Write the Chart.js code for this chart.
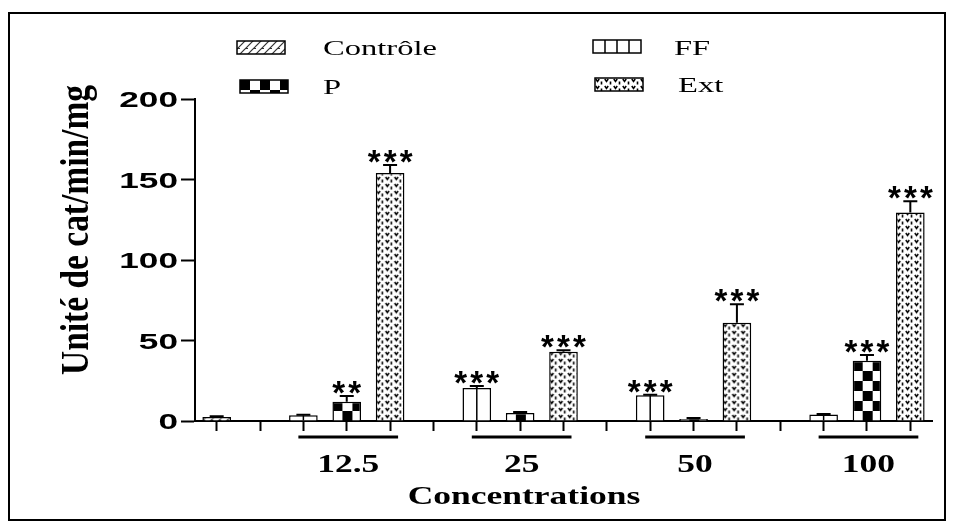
<!DOCTYPE html>
<html lang="fr">
<head>
<meta charset="UTF-8">
<title>Unité de cat/min/mg</title>
<script src="https://cdn.jsdelivr.net/npm/chart.js"></script>
<style>
  html, body { margin: 0; padding: 0; background: #fff; }
  #wrap { width: 954px; height: 529px; }
</style>
</head>
<body>
<div id="wrap"><canvas id="chart" width="954" height="529"></canvas></div>
<script>
// values
const concentrations = ['12.5', '25', '50', '100'];
const controlValue = 2.5;
const controlError = 0.4;
const ffValues = [3.5, 20.5, 16, 4];
const ffErrors = [0.4, 1.2, 0.3, 0.3];
const pValues = [12, 5, 1.2, 37.5];
const pErrors = [3.6, 0.6, 0.6, 3.5];
const extValues = [154, 43, 61, 129.5];
const extErrors = [5, 1, 11.5, 7];
const ffStars = ['', '***', '***', ''];
const pStars = ['**', '', '', '***'];
const extStars = ['***', '***', '***', '***'];
const yTicks = [0, 50, 100, 150, 200];

// slot 0 = control, slot 1 = gap, then FF/P/Ext + gap per concentration
const slotCount = 2 + concentrations.length * 4 - 1;
const slotOf = (g, k) => 2 + g * 4 + k;
const BAR_PCT = 0.66;
const SX = 1.42; // the figure's text is stretched horizontally

function slots(vals, k) {
  const out = new Array(slotCount).fill(null);
  vals.forEach((v, g) => { out[slotOf(g, k)] = v; });
  return out;
}
function single(v) {
  const out = new Array(slotCount).fill(null);
  out[0] = v;
  return out;
}

function tile(w, h, draw) {
  const c = document.createElement('canvas');
  c.width = w; c.height = h;
  const g = c.getContext('2d');
  g.fillStyle = '#fff';
  g.fillRect(0, 0, w, h);
  g.strokeStyle = '#000';
  g.fillStyle = '#000';
  draw(g);
  return c;
}

const tiles = {
  control: tile(8, 8, g => {
    g.lineWidth = 1.2;
    g.strokeStyle = '#333';
    g.beginPath();
    g.moveTo(0, 8); g.lineTo(8, 0);
    g.moveTo(-4, 4); g.lineTo(4, -4);
    g.moveTo(4, 12); g.lineTo(12, 4);
    g.moveTo(0, 7.5); g.lineTo(3, 7.5);
    g.stroke();
  }),
  checker: tile(20, 20, g => {
    g.fillRect(0, 0, 10, 10);
    g.fillRect(10, 10, 10, 10);
  }),
  ext: tile(9, 7, g => {
    g.lineWidth = 1.6;
    g.beginPath();
    g.moveTo(0.8, 1); g.lineTo(2.5, 3.4); g.lineTo(4.2, 1);
    g.moveTo(6.5, 3.5); g.lineTo(6.5, 6.5);
    g.stroke();
  })
};

const canvas = document.getElementById('chart');
const ctx = canvas.getContext('2d');

function patternAt(name, x, y) {
  const p = ctx.createPattern(tiles[name], 'repeat');
  p.setTransform(new DOMMatrix().translate(x, y));
  return p;
}

function barFill(name) {
  return c => {
    const chart = c.chart;
    const xs = chart.scales.x, ys = chart.scales.y;
    if (!xs || !ys || c.dataIndex === undefined) return patternAt(name, 0, 0);
    const w = xs.width / slotCount * BAR_PCT;
    return patternAt(name, xs.getPixelForValue(c.dataIndex) - w / 2, ys.getPixelForValue(0));
  };
}

function stretchText(text, x, y, font, align, sx) {
  ctx.save();
  ctx.font = font;
  ctx.textAlign = align;
  ctx.textBaseline = 'alphabetic';
  ctx.fillStyle = '#000';
  ctx.translate(x, y);
  ctx.scale(sx, 1);
  ctx.fillText(text, 0, 0);
  ctx.restore();
}

const decorations = {
  id: 'decorations',
  afterDatasetsDraw(chart) {
    const xs = chart.scales.x, ys = chart.scales.y;
    const area = chart.chartArea;
    ctx.save();
    ctx.strokeStyle = '#000';

    chart.data.datasets.forEach((ds, di) => {
      const meta = chart.getDatasetMeta(di);
      meta.data.forEach((el, i) => {
        const v = ds.data[i];
        if (v === null) return;
        // FF bars show a single divider down the middle
        if (ds.divider) {
          ctx.lineWidth = 1.5;
          ctx.beginPath();
          ctx.moveTo(el.x, el.y);
          ctx.lineTo(el.x, el.base);
          ctx.stroke();
        }
        // upper error bar
        const top = ys.getPixelForValue(v + ds.errors[i]);
        ctx.lineWidth = 2;
        ctx.beginPath();
        ctx.moveTo(el.x, el.y);
        ctx.lineTo(el.x, top);
        ctx.moveTo(el.x - 7, top);
        ctx.lineTo(el.x + 7, top);
        ctx.stroke();
        // significance stars
        const s = ds.stars[i];
        if (s) {
          ctx.font = 'bold 33px "Liberation Sans"';
          ctx.textAlign = 'center';
          ctx.textBaseline = 'alphabetic';
          ctx.fillStyle = '#000';
          const n = s.length;
          for (let k = 0; k < n; k++) {
            ctx.fillText('*', el.x + (k - (n - 1) / 2) * 16, top + 8);
          }
        }
      });
    });

    // group underlines and concentration labels
    concentrations.forEach((lab, g) => {
      const x1 = xs.getPixelForValue(slotOf(g, 0)) - 5;
      const x2 = xs.getPixelForValue(slotOf(g, 2)) + 8;
      ctx.lineWidth = 3;
      ctx.beginPath();
      ctx.moveTo(x1, area.bottom + 16);
      ctx.lineTo(x2, area.bottom + 16);
      ctx.stroke();
      stretchText(lab, (x1 + x2) / 2, area.bottom + 51, 'bold 25px "Liberation Serif"', 'center', SX);
    });
    stretchText('Concentrations', 524, 504, 'bold 25px "Liberation Serif"', 'center', SX);

    // y tick labels
    yTicks.forEach(v => {
      const y = ys.getPixelForValue(v);
      stretchText(String(v), 178, y + 8, 'bold 22px "Liberation Sans"', 'right', 1.6);
    });

    // y title
    ctx.save();
    ctx.font = 'bold 27px "Liberation Serif"';
    const title = 'Unité de cat/min/mg';
    const w = ctx.measureText(title).width;
    ctx.translate(88, 230);
    ctx.rotate(-Math.PI / 2);
    ctx.scale(290 / w, 1.5);
    ctx.textAlign = 'center';
    ctx.textBaseline = 'alphabetic';
    ctx.fillStyle = '#000';
    ctx.fillText(title, 0, 0);
    ctx.restore();

    // legend
    const items = [
      { ds: 0, px: 237, py: 41, tx: 323, ty: 55 },
      { ds: 1, px: 593, py: 40, tx: 674, ty: 55 },
      { ds: 2, px: 240, py: 80, tx: 323, ty: 94 },
      { ds: 3, px: 595, py: 78, tx: 678, ty: 92 }
    ];
    items.forEach(it => {
      const ds = chart.data.datasets[it.ds];
      ctx.fillStyle = ds.patternName ? patternAt(ds.patternName, it.px, it.py) : '#fff';
      ctx.fillRect(it.px, it.py, 48, 13);
      if (ds.divider) {
        ctx.lineWidth = 1.5;
        ctx.beginPath();
        for (let k = 1; k < 4; k++) {
          ctx.moveTo(it.px + k * 12, it.py);
          ctx.lineTo(it.px + k * 12, it.py + 13);
        }
        ctx.stroke();
      }
      ctx.lineWidth = 1.5;
      ctx.strokeRect(it.px, it.py, 48, 13);
      stretchText(ds.label, it.tx, it.ty, '22px "Liberation Serif"', 'left', 1.48);
    });

    // outer frame
    ctx.lineWidth = 2;
    ctx.strokeRect(9, 13, 936, 507);
    ctx.restore();
  }
};

const common = {
  grouped: false,
  barPercentage: BAR_PCT,
  categoryPercentage: 1,
  borderColor: '#000',
  borderWidth: 1.5
};

new Chart(ctx, {
  type: 'bar',
  data: {
    labels: new Array(slotCount).fill(''),
    datasets: [
      Object.assign({ label: 'Contrôle', data: single(controlValue), errors: single(controlError),
        stars: single(''), patternName: 'control', backgroundColor: barFill('control') }, common),
      Object.assign({ label: 'FF', data: slots(ffValues, 0), errors: slots(ffErrors, 0),
        stars: slots(ffStars, 0), divider: true, backgroundColor: '#fff' }, common),
      Object.assign({ label: 'P', data: slots(pValues, 1), errors: slots(pErrors, 1),
        stars: slots(pStars, 1), patternName: 'checker', backgroundColor: barFill('checker') }, common),
      Object.assign({ label: 'Ext', data: slots(extValues, 2), errors: slots(extErrors, 2),
        stars: slots(extStars, 2), patternName: 'ext', backgroundColor: barFill('ext') }, common)
    ]
  },
  options: {
    responsive: false,
    animation: false,
    layout: { padding: { top: 99, right: 22, left: 0, bottom: 0 } },
    plugins: { legend: { display: false }, tooltip: { enabled: false } },
    scales: {
      x: {
        offset: true,
        ticks: { display: false },
        grid: { offset: false, drawOnChartArea: false, tickLength: 10, tickWidth: 2, tickColor: '#000' },
        border: { color: '#000', width: 2 },
        afterFit: s => { s.height = 108; }
      },
      y: {
        min: 0,
        max: 200,
        afterBuildTicks: s => { s.ticks = yTicks.map(v => ({ value: v })); },
        ticks: { display: false },
        grid: { drawOnChartArea: false, tickLength: 14, tickWidth: 2, tickColor: '#000' },
        border: { color: '#000', width: 2 },
        afterFit: s => { s.width = 195; }
      }
    }
  },
  plugins: [decorations]
});
</script>
</body>
</html>
